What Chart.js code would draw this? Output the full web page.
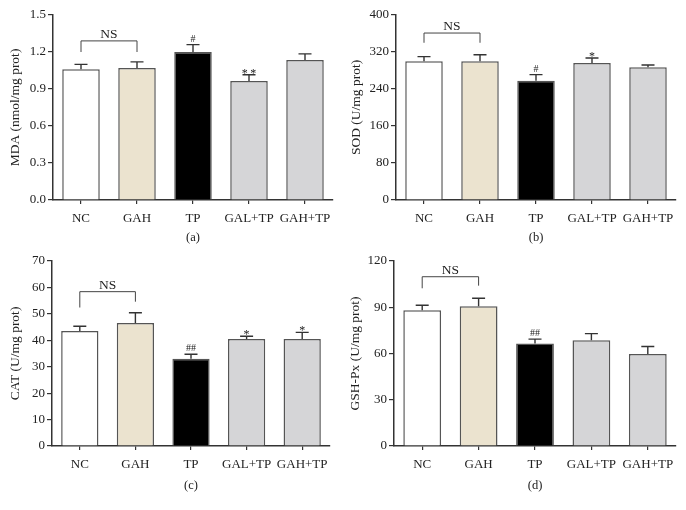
<!DOCTYPE html>
<html>
<head>
<meta charset="utf-8">
<script src="https://cdn.jsdelivr.net/npm/chart.js@4/dist/chart.umd.min.js"></script>
<style>
    html, body { margin: 0; padding: 0; background: #fff; }
    #wrap { position: relative; width: 686px; height: 510px; }
    .panel { position: absolute; width: 343px; }
</style>
</head>
<body>
<div id="wrap">
    <div class="panel" style="left:0;top:0;height:255px"><canvas id="chartA"></canvas></div>
    <div class="panel" style="left:343px;top:0;height:255px"><canvas id="chartB"></canvas></div>
    <div class="panel" style="left:0;top:250px;height:260px"><canvas id="chartC"></canvas></div>
    <div class="panel" style="left:343px;top:250px;height:260px"><canvas id="chartD"></canvas></div>
</div>
<script>
/* ================= DATA ================= */

const groups = ["NC", "GAH", "TP", "GAL+TP", "GAH+TP"];

// (a) MDA
const mdaMean = [1.06, 1.07, 1.20, 0.965, 1.135];
const mdaErr = [0.04, 0.05, 0.06, 0.05, 0.05];
const mdaMarks = ["", "", "#", "**", ""];
const mdaTicks = [0, 0.3, 0.6, 0.9, 1.2, 1.5];

// (b) SOD
const sodMean = [300, 300, 258, 296, 287];
const sodErr = [10, 14, 13, 11, 5];
const sodMarks = ["", "", "#", "*", ""];
const sodTicks = [0, 80, 160, 240, 320, 400];

// (c) CAT
const catMean = [43.5, 46.5, 33.0, 40.5, 40.5];
const catErr = [1.8, 3.9, 1.7, 1.0, 2.5];
const catMarks = ["", "", "##", "*", "*"];
const catTicks = [0, 10, 20, 30, 40, 50, 60, 70];

// (d) GSH-Px
const gshMean = [88.1, 90.6, 66.5, 68.6, 59.6];
const gshErr = [3.2, 5.2, 2.8, 4.3, 4.9];
const gshMarks = ["", "", "##", "", ""];
const gshTicks = [0, 30, 60, 90, 120];

// NS bracket between NC and GAH: [bracket level, NC leg end, GAH leg end]
const mdaNS = [1.29, 1.2, 1.2];
const sodNS = [361, 340, 340];
const catNS = [58.4, 52.4, 54.6];
const gshNS = [109.8, 102.3, 104];

/* ================= STYLE ================= */

const FONT = "'Liberation Serif', 'Times New Roman', serif";
const TEXT = "#222";
const AXIS = "#333";
const barColors = ["#ffffff", "#ebe3cf", "#000000", "#d5d5d7", "#d5d5d7"];

/* ================= PLUGIN ================= */

const errorBars = {
    id: "errorBars",
    afterDatasetsDraw(chart, args, opts) {
        const { ctx } = chart;
        const y = chart.scales.y;
        const meta = chart.getDatasetMeta(0);
        const values = chart.data.datasets[0].data;

        ctx.save();
        ctx.strokeStyle = AXIS;
        ctx.fillStyle = TEXT;
        ctx.textAlign = "center";
        ctx.textBaseline = "alphabetic";

        meta.data.forEach((bar, i) => {
            const top = y.getPixelForValue(values[i] + opts.err[i]);
            ctx.lineWidth = 1.4;
            ctx.beginPath();
            ctx.moveTo(bar.x, bar.y);
            ctx.lineTo(bar.x, top);
            ctx.moveTo(bar.x - 6.5, top);
            ctx.lineTo(bar.x + 6.5, top);
            ctx.stroke();

            const m = opts.marks[i];
            if (m) {
                if (m.includes("*")) {
                    ctx.font = "12px " + FONT;
                    ctx.fillText(m.split("").join("\u2009"), bar.x, top + 2);
                } else {
                    ctx.font = "10px " + FONT;
                    ctx.fillText(m, bar.x, top - 3);
                }
            }
        });

        // NS bracket
        const ns = opts.ns;
        const x0 = meta.data[0].x;
        const x1 = meta.data[1].x;
        const yb = y.getPixelForValue(ns[0]);
        ctx.lineWidth = 1;
        ctx.strokeStyle = "#444";
        ctx.beginPath();
        ctx.moveTo(x0, y.getPixelForValue(ns[1]));
        ctx.lineTo(x0, yb);
        ctx.lineTo(x1, yb);
        ctx.lineTo(x1, y.getPixelForValue(ns[2]));
        ctx.stroke();
        ctx.font = "13.5px " + FONT;
        ctx.fillText("NS", (x0 + x1) / 2, yb - 3);
        ctx.restore();
    }
};

/* ================= BUILD ================= */

function makeChart(id, cfg) {
    return new Chart(document.getElementById(id), {
        type: "bar",
        data: {
            labels: groups,
            datasets: [{
                data: cfg.mean,
                backgroundColor: barColors,
                borderColor: "#555",
                borderWidth: 1.5,
                borderSkipped: "bottom",
                barPercentage: 0.67,
                categoryPercentage: 1,
            }]
        },
        options: {
            responsive: true,
            maintainAspectRatio: false,
            animation: false,
            layout: { padding: { top: cfg.top, right: cfg.right, bottom: 0, left: 0 } },
            plugins: {
                legend: { display: false },
                tooltip: { enabled: false },
                errorBars: { err: cfg.err, marks: cfg.marks, ns: cfg.ns },
            },
            scales: {
                x: {
                    grid: {
                        offset: false,
                        drawOnChartArea: false,
                        tickLength: 4,
                        color: AXIS,
                        lineWidth: 1.2,
                    },
                    border: { color: AXIS, width: 1.5 },
                    ticks: {
                        color: TEXT,
                        font: { family: FONT, size: 13 },
                        padding: 7,
                        maxRotation: 0,
                    },
                    title: {
                        display: true,
                        text: cfg.label,
                        color: TEXT,
                        font: { family: FONT, size: 12.5 },
                        padding: { top: 0, bottom: cfg.labelPad },
                    },
                    afterFit: s => { s.height = cfg.xHeight; },
                },
                y: {
                    min: cfg.ticks[0],
                    max: cfg.ticks[cfg.ticks.length - 1],
                    afterBuildTicks: s => {
                        s.ticks = cfg.ticks.map(v => ({ value: v }));
                    },
                    grid: {
                        drawOnChartArea: false,
                        tickLength: 5,
                        color: AXIS,
                        lineWidth: 1.2,
                    },
                    border: { color: AXIS, width: 1.5 },
                    ticks: {
                        color: TEXT,
                        font: { family: FONT, size: 13 },
                        padding: 2,
                        callback: v => cfg.fmt(v),
                    },
                    title: {
                        display: true,
                        text: cfg.title,
                        color: TEXT,
                        font: { family: FONT, size: 13.5 },
                        padding: { top: cfg.titlePad, bottom: 0 },
                    },
                    afterFit: s => { s.width = cfg.yWidth; },
                },
            },
        },
        plugins: [errorBars],
    });
}

makeChart("chartA", {
    mean: mdaMean, err: mdaErr, marks: mdaMarks, ticks: mdaTicks, ns: mdaNS,
    fmt: v => v.toFixed(1), title: "MDA (nmol/mg prot)", label: "(a)",
    top: 15, right: 10, yWidth: 53, xHeight: 55, labelPad: 10, titlePad: 7,
});

makeChart("chartB", {
    mean: sodMean, err: sodErr, marks: sodMarks, ticks: sodTicks, ns: sodNS,
    fmt: v => String(v), title: "SOD (U/mg prot)", label: "(b)",
    top: 15, right: 10, yWidth: 53, xHeight: 55, labelPad: 10, titlePad: 5,
});

makeChart("chartC", {
    mean: catMean, err: catErr, marks: catMarks, ticks: catTicks, ns: catNS,
    fmt: v => String(v), title: "CAT (U/mg prot)", label: "(c)",
    top: 11, right: 13, yWidth: 52, xHeight: 64, labelPad: 17, titlePad: 7,
});

makeChart("chartD", {
    mean: gshMean, err: gshErr, marks: gshMarks, ticks: gshTicks, ns: gshNS,
    fmt: v => String(v), title: "GSH-Px (U/mg prot)", label: "(d)",
    top: 11, right: 10, yWidth: 51, xHeight: 64, labelPad: 17, titlePad: 4,
});
</script>
</body>
</html>
